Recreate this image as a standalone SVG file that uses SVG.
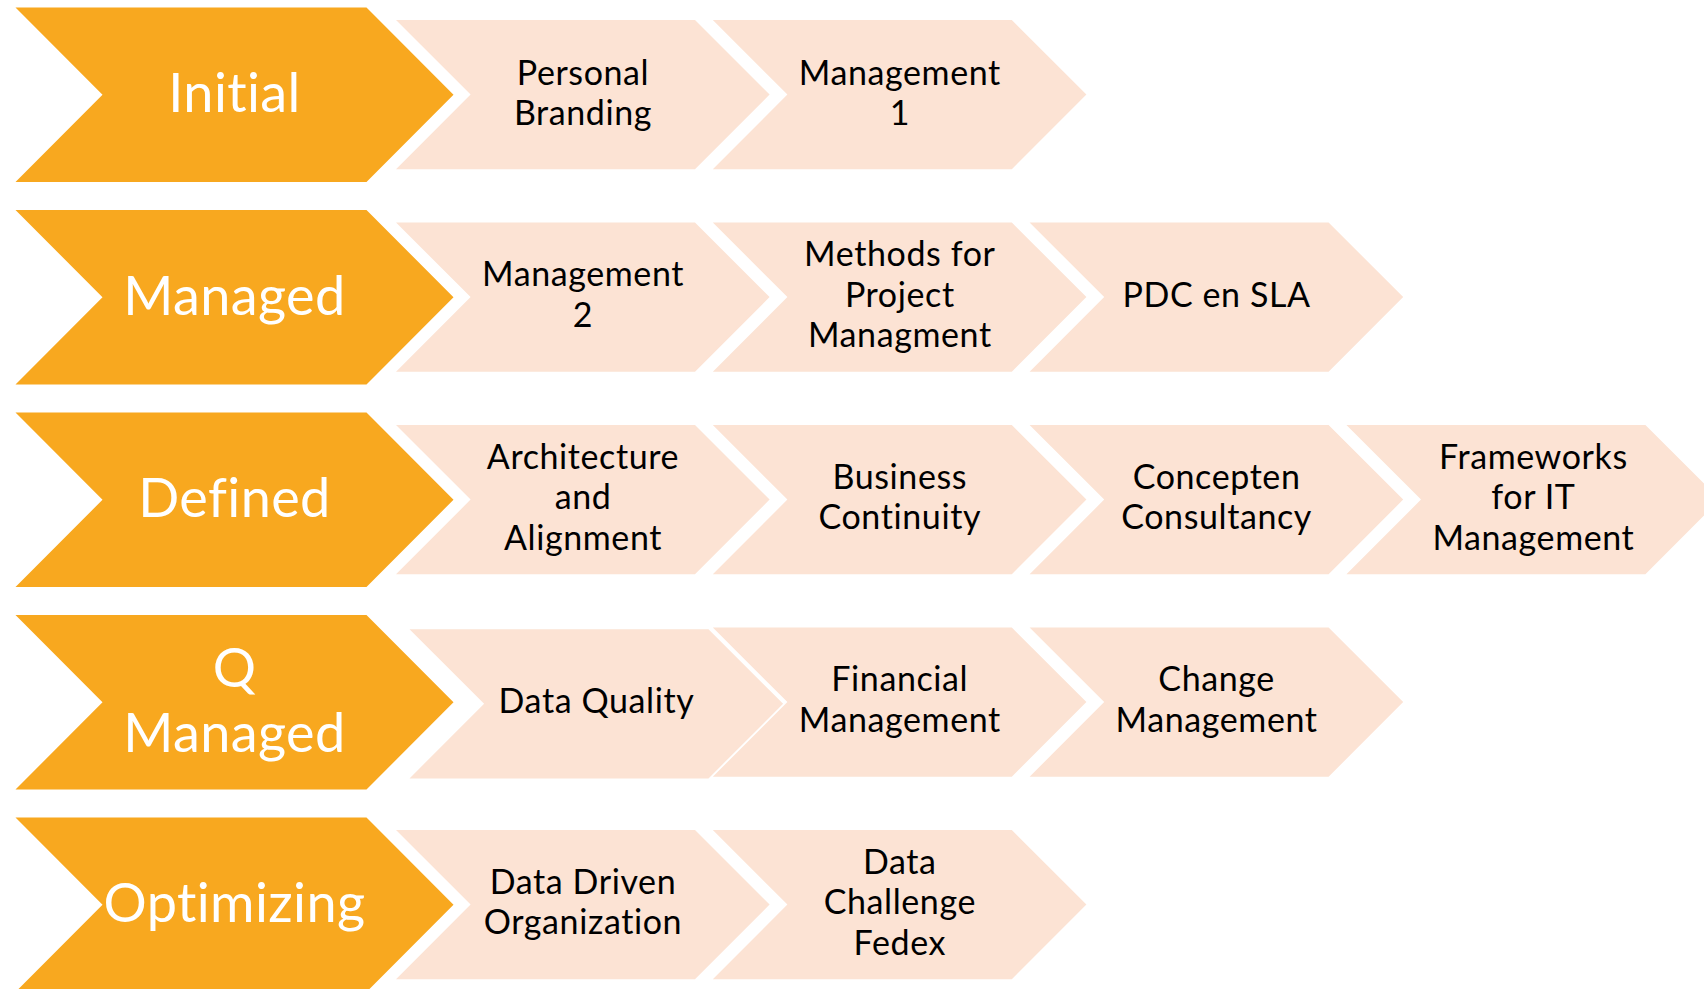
<svg xmlns="http://www.w3.org/2000/svg" xmlns:xlink="http://www.w3.org/1999/xlink" width="1704" height="989" viewBox="0 0 1704 989">
  <style>
    .stage { fill: #F8A81F; }
    .step { fill: #FCE3D4; }
    .stage-t { font-family: Lato, "Liberation Sans", sans-serif; font-size: 54px; fill: #FFFFFF; text-anchor: middle; letter-spacing: 0.4px; }
    .step-t { font-family: Lato, "Liberation Sans", sans-serif; font-size: 34px; fill: #000000; text-anchor: middle; letter-spacing: 0.6px; }
  </style>
  <defs>
    <path id="chev-o" d="M0,0 H351 L438,87.25 L351,174.5 H0 L87,87.25 Z"/>
    <path id="chev-p" d="M0,0 H299 L373.6,74.6 L299,149.2 H0 L74.6,74.6 Z"/>
  </defs>
  <rect width="1704" height="989" fill="#FFFFFF"/>

  <!-- Row 1 -->
  <g id="initial"><use href="#chev-o" class="stage" x="15.5" y="7.5"/><text class="stage-t" x="234.5" y="112">Initial</text></g>
  <g id="personal-branding"><use href="#chev-p" class="step" x="396" y="20"/><text class="step-t" x="583" y="84.8">Personal</text><text class="step-t" x="583" y="125.3">Branding</text></g>
  <g id="management-1"><use href="#chev-p" class="step" x="712.8" y="20"/><text class="step-t" x="899.8" y="84.8">Management</text><text class="step-t" x="899.8" y="125.3">1</text></g>

  <!-- Row 2 -->
  <g id="managed"><use href="#chev-o" class="stage" x="15.5" y="210"/><text class="stage-t" x="234.5" y="314.5">Managed</text></g>
  <g id="management-2"><use href="#chev-p" class="step" x="396" y="222.5"/><text class="step-t" x="583" y="286.35">Management</text><text class="step-t" x="583" y="326.85">2</text></g>
  <g id="methods-pm"><use href="#chev-p" class="step" x="712.8" y="222.5"/><text class="step-t" x="899.8" y="266.1">Methods for</text><text class="step-t" x="899.8" y="306.6">Project</text><text class="step-t" x="899.8" y="347.1">Managment</text></g>
  <g id="pdc-sla"><use href="#chev-p" class="step" x="1029.6" y="222.5"/><text class="step-t" x="1216.6" y="306.6">PDC en SLA</text></g>

  <!-- Row 3 -->
  <g id="defined"><use href="#chev-o" class="stage" x="15.5" y="412.5"/><text class="stage-t" x="234.5" y="517">Defined</text></g>
  <g id="architecture"><use href="#chev-p" class="step" x="396" y="425"/><text class="step-t" x="583" y="468.6">Architecture</text><text class="step-t" x="583" y="509.1">and</text><text class="step-t" x="583" y="549.6">Alignment</text></g>
  <g id="business-continuity"><use href="#chev-p" class="step" x="712.8" y="425"/><text class="step-t" x="899.8" y="488.85">Business</text><text class="step-t" x="899.8" y="529.35">Continuity</text></g>
  <g id="concepten-consultancy"><use href="#chev-p" class="step" x="1029.6" y="425"/><text class="step-t" x="1216.6" y="488.85">Concepten</text><text class="step-t" x="1216.6" y="529.35">Consultancy</text></g>
  <g id="frameworks-it"><use href="#chev-p" class="step" x="1346.4" y="425"/><text class="step-t" x="1533.4" y="468.6">Frameworks</text><text class="step-t" x="1533.4" y="509.1">for IT</text><text class="step-t" x="1533.4" y="549.6">Management</text></g>

  <!-- Row 4 -->
  <g id="q-managed"><use href="#chev-o" class="stage" x="15.5" y="615"/><text class="stage-t" x="234.5" y="687">Q</text><text class="stage-t" x="234.5" y="752">Managed</text></g>
  <g id="financial-management"><use href="#chev-p" class="step" x="712.8" y="627.5"/><text class="step-t" x="899.8" y="691.35">Financial</text><text class="step-t" x="899.8" y="731.85">Management</text></g>
  <g id="data-quality"><use href="#chev-p" class="step" x="409.5" y="629.2"/><text class="step-t" x="596.5" y="713.3">Data Quality</text></g>
  <g id="change-management"><use href="#chev-p" class="step" x="1029.6" y="627.5"/><text class="step-t" x="1216.6" y="691.35">Change</text><text class="step-t" x="1216.6" y="731.85">Management</text></g>

  <!-- Row 5 -->
  <g id="optimizing"><use href="#chev-o" class="stage" x="15.5" y="817.5"/><text class="stage-t" x="234.5" y="922">Optimizing</text></g>
  <g id="data-driven"><use href="#chev-p" class="step" x="396" y="830"/><text class="step-t" x="583" y="893.85">Data Driven</text><text class="step-t" x="583" y="934.35">Organization</text></g>
  <g id="data-challenge"><use href="#chev-p" class="step" x="712.8" y="830"/><text class="step-t" x="899.8" y="873.6">Data</text><text class="step-t" x="899.8" y="914.1">Challenge</text><text class="step-t" x="899.8" y="954.6">Fedex</text></g>

  <g id="connectors"></g>
</svg>
